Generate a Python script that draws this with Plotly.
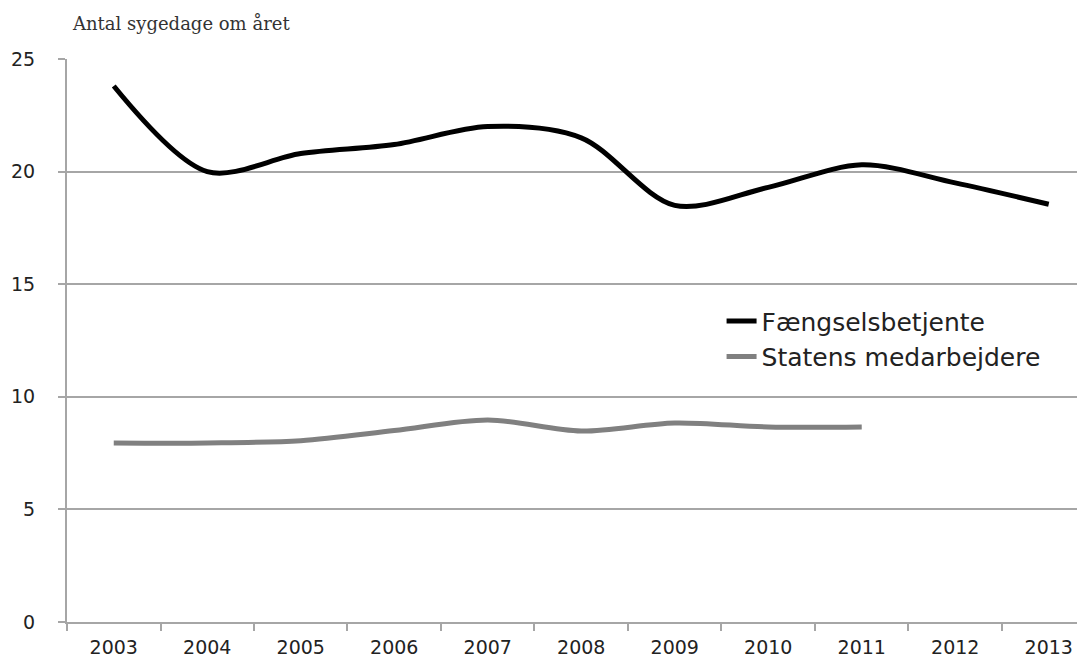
import plotly.graph_objects as go

years = ["2003", "2004", "2005", "2006", "2007", "2008", "2009", "2010", "2011", "2012", "2013"]
faengsel = [23.8, 20.0, 20.8, 21.2, 22.0, 21.5, 18.5, 19.3, 20.3, 19.5, 18.55]
staten_years = ["2003", "2004", "2005", "2006", "2007", "2008", "2009", "2010", "2011"]
staten = [7.95, 7.95, 8.05, 8.5, 8.97, 8.48, 8.84, 8.66, 8.66]

fig = go.Figure()
fig.add_trace(go.Scatter(x=years, y=faengsel, mode="lines", name="Fængselsbetjente",
                         line=dict(color="#000000", width=5, shape="spline", smoothing=0.9)))
fig.add_trace(go.Scatter(x=staten_years, y=staten, mode="lines", name="Statens medarbejdere",
                         line=dict(color="#808080", width=5, shape="spline", smoothing=0.9)))

fig.update_layout(
    width=1077, height=649,
    margin=dict(l=59, r=0, t=51, b=35),
    paper_bgcolor="white", plot_bgcolor="white",
    font=dict(family="DejaVu Sans", color="#222222", size=19),
    showlegend=True,
    legend=dict(x=0.643, y=0.575, xanchor="left", yanchor="top",
                font=dict(family="DejaVu Sans", size=25, color="#222222"),
                bgcolor="rgba(0,0,0,0)", tracegroupgap=0, itemwidth=30),
    annotations=[dict(text="Antal sygedage om året", xref="paper", yref="paper",
                      x=0.003, y=1.0, xanchor="left", yanchor="bottom", yshift=23,
                      showarrow=False,
                      font=dict(family="DejaVu Serif", size=18, color="#333333"))],
)
fig.update_xaxes(type="category", range=[-0.5, 10.388], tickson="boundaries",
                 showgrid=False, showline=True, linecolor="#a6a6a6", linewidth=2,
                 ticks="outside", ticklen=7, tickwidth=2, tickcolor="#a6a6a6",
                 ticklabelstandoff=7,
                 tickfont=dict(size=19, color="#222222"))
fig.update_yaxes(range=[0, 25], tickvals=[0, 5, 10, 15, 20, 25], showgrid=True,
                 gridcolor="#a6a6a6", gridwidth=2, zeroline=False,
                 showline=True, linecolor="#a6a6a6", linewidth=2,
                 ticks="outside", ticklen=7, tickwidth=2, tickcolor="#a6a6a6",
                 ticklabelstandoff=19, tickfont=dict(size=19, color="#222222"))

fig.write_html("out.html")
